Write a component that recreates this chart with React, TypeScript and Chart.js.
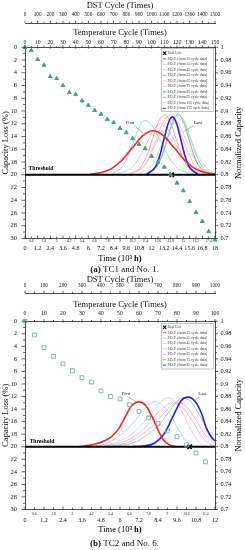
import React, { useEffect, useRef } from 'react';
import { Chart, registerables } from 'chart.js';

Chart.register(...registerables);

const SERIF = '"Liberation Serif", "DejaVu Serif", serif';

type Pt = [number, number];

// ---------- Panel (a): TC1 and No. 1 ----------
const timeA = [0, 0.6, 1.2, 1.8, 2.4, 3.0, 3.6, 4.2, 4.8, 5.4, 6.0, 6.6, 7.2, 7.8, 8.4, 9.0, 9.6, 10.2, 10.8, 11.4, 12.0, 12.6, 13.2, 13.8, 14.4, 15.0, 15.6, 16.2, 16.8, 17.4, 18.0];
const lossA = [0, 0.5, 1.9, 2.8, 4.6, 4.9, 6.0, 7.1, 7.4, 8.4, 9.1, 9.9, 10.5, 11.3, 11.8, 12.7, 13.4, 14.3, 15.2, 15.9, 17.1, 18.0, 18.8, 20.0, 21.3, 22.5, 24.2, 25.9, 27.3, 28.9, 30.2];
const realLifeA: Pt = [13.9, 20];
const cyclesA = [25, 35, 45, 55, 65, 75, 85, 95, 105, 115];
const pdfA25: Pt[] = [[6.15, 19.92], [7.15, 19.7], [8.15, 19.07], [9.15, 17.76], [10.15, 15.82], [11.15, 13.91], [12.15, 13.1], [13.15, 13.91], [14.15, 15.82], [15.15, 17.76], [16.15, 19.07], [17.15, 19.7], [18, 19.9]];
const pdfA35: Pt[] = [[8.07, 19.91], [9.17, 18.85], [9.72, 17.24], [10.27, 14.84], [10.82, 12.5], [11.37, 11.5], [12.12, 12.5], [12.87, 14.84], [13.62, 17.24], [14.37, 18.85], [15.87, 19.91]];
const pdfA45: Pt[] = [[8.7, 19.91], [10.1, 18.92], [10.8, 17.4], [11.5, 15.15], [12.2, 12.94], [12.9, 12.0], [13.6, 12.94], [14.3, 15.15], [15.0, 17.4], [15.7, 18.92], [17.1, 19.91]];
const pdfA55: Pt[] = [[9.9, 19.9], [11.0, 18.73], [11.55, 16.95], [12.1, 14.3], [12.65, 11.7], [13.2, 10.6], [13.75, 11.7], [14.3, 14.3], [14.85, 16.95], [15.4, 18.73], [16.5, 19.9]];
const pdfA65: Pt[] = [[9.95, 19.9], [11.2, 18.74], [11.83, 16.98], [12.45, 14.36], [13.08, 11.79], [13.7, 10.7], [14.33, 11.79], [14.95, 14.36], [15.58, 16.98], [16.2, 18.74], [17.45, 19.9]];
const pdfA75: Pt[] = [[9.85, 19.9], [11.2, 18.78], [11.88, 17.08], [12.55, 14.54], [13.23, 12.06], [13.9, 11.0], [14.58, 12.06], [15.25, 14.54], [15.93, 17.08], [16.6, 18.78], [17.95, 19.9]];
const pdfA85: Pt[] = [[11.5, 19.89], [12.5, 18.71], [13.0, 16.92], [13.5, 14.24], [14.0, 11.62], [14.5, 10.5], [15.0, 11.62], [15.5, 14.24], [16.0, 16.92], [16.5, 18.71], [17.5, 19.89]];
const pdfA95: Pt[] = [[11.3, 19.9], [12.4, 18.74], [12.95, 16.98], [13.5, 14.36], [14.05, 11.79], [14.6, 10.7], [15.15, 11.79], [15.7, 14.36], [16.25, 16.98], [16.8, 18.74], [17.9, 19.9]];
const pdfA105: Pt[] = [[10.7, 19.9], [11.9, 18.77], [12.5, 17.05], [13.1, 14.48], [13.7, 11.97], [14.3, 10.9], [15.0, 11.97], [15.7, 14.48], [16.4, 17.05], [17.1, 18.77], [18.0, 19.72]];
const pdfA115: Pt[] = [[11.56, 19.9], [12.36, 18.77], [12.76, 17.05], [13.16, 14.48], [13.56, 11.97], [13.96, 10.9], [14.36, 11.97], [14.76, 14.48], [15.16, 17.05], [15.56, 18.77], [16.36, 19.9]];
const colorsA = ['#ff2020', '#7fd3d3', '#cfc4cf', '#ff7fd0', '#efb78a', '#ffb3c6', '#4fa77c', '#a9b9a6', '#9fe0e6', '#1f1fff'];

// ---------- Panel (b): TC2 and No. 6 ----------
const timeB = [0, 0.6, 1.2, 1.8, 2.4, 3.0, 3.6, 4.2, 4.8, 5.4, 6.0, 6.6, 7.2, 7.8, 8.4, 9.0, 9.6, 10.2, 10.8, 11.4];
const lossB = [0, 2.2, 4.2, 5.6, 6.8, 7.9, 9.0, 9.7, 11.1, 12.0, 12.4, 13.3, 14.4, 15.4, 16.3, 17.5, 18.4, 19.7, 21.0, 22.4];
const realLifeB: Pt = [10.4, 20];
const cyclesB = [25, 35, 45, 55, 65, 75, 85];
const pdfB25: Pt[] = [[3.4, 20], [4.4, 19.6], [5.0, 19.1], [5.5, 18.3], [5.9, 17.2], [6.3, 15.4], [6.7, 13.6], [7.2, 12.85], [7.65, 13.5], [8.1, 15.6], [8.45, 17.6], [8.8, 19.1], [9.2, 19.8], [9.6, 20]];
const pdfB35: Pt[] = [[3.8, 20], [5.0, 19.6], [6.1, 18.0], [6.7, 16.6], [7.2, 15.0], [7.7, 13.5], [8.2, 12.8], [8.7, 13.4], [9.2, 15.0], [9.7, 17.3], [10.2, 19.2], [10.8, 20]];
const pdfB45: Pt[] = [[4.2, 20], [5.5, 19.5], [6.5, 18.4], [7.3, 16.7], [8.0, 14.6], [8.6, 12.8], [9.05, 12.2], [9.5, 12.8], [10.0, 14.8], [10.5, 17.4], [11.0, 19.3], [11.5, 20]];
const pdfB55: Pt[] = [[4.6, 20], [6.0, 19.4], [7.0, 18.2], [7.8, 16.4], [8.5, 14.3], [9.3, 13.0], [10.0, 13.9], [10.6, 16.0], [11.2, 18.5], [11.7, 19.6], [12, 19.9]];
const pdfB65: Pt[] = [[5.0, 20], [6.4, 19.4], [7.4, 18.0], [8.2, 16.3], [8.9, 14.3], [9.6, 12.9], [10.2, 13.6], [10.8, 15.7], [11.4, 18.1], [12.0, 19.5]];
const pdfB75: Pt[] = [[5.4, 20], [6.8, 19.4], [7.8, 18.0], [8.6, 16.1], [9.3, 13.7], [9.95, 12.2], [10.5, 12.9], [11.0, 14.9], [11.5, 17.2], [12.0, 19.0]];
const pdfB85: Pt[] = [[6.5, 20], [7.6, 19.85], [8.2, 19.4], [8.8, 17.9], [9.4, 14.9], [9.85, 12.7], [10.3, 12.1], [10.75, 12.8], [11.15, 14.7], [11.45, 17.0], [11.75, 18.4], [12.0, 19.1]];
const colorsB = ['#ff2020', '#8fdada', '#d2cbd2', '#e2a6ea', '#ff9ad6', '#8fc68f', '#1f1fff'];

const THRESHOLD = 20;

interface PanelCfg {
  timeMax: number;
  tempMax: number;
  dstMax: number;
  t: number[];
  loss: number[];
  pointStyle: string;
  pointRadius: number;
  pointColor: string;
  pointFill: string;
  real: Pt;
  cycles: number[];
  curves: Pt[][];
  colors: string[];
  lay: any;
  deco: any;
}

const panelA: PanelCfg = {
  timeMax: 18, tempMax: 150, dstMax: 1500,
  t: timeA, loss: lossA,
  pointStyle: 'triangle', pointRadius: 2.3, pointColor: '#3d9f87', pointFill: '#3d9f87',
  real: realLifeA, cycles: cyclesA,
  curves: [pdfA25, pdfA35, pdfA45, pdfA55, pdfA65, pdfA75, pdfA85, pdfA95, pdfA105, pdfA115],
  colors: colorsA,
  lay: { dstH: 23.3, dstPad: 5.7, dstTitlePad: 1.75, tempH: 23.95, tempPad: 1.75, tempTitlePad: 4.75, bottomH: 25.5, xPad: 6.7 },
  deco: {
    minorY: 3, timeY: 258.3, rightTitleX: 238.5,
    thr: [0.33, 19.0],
    notes: [
      { text: 'First', at: [9.95, 11.8], line: [10.4, 12.35, 11.2, 13.5] },
      { text: 'Last', at: [16.4, 11.9], line: [15.9, 12.35, 15.0, 13.25] },
    ],
    legend: { x: 161.7, y: 48.3, w: 51.6, h: 63.2, first: 5.0, row: 5.5 },
  },
};

const panelB: PanelCfg = {
  timeMax: 12, tempMax: 100, dstMax: 1000,
  t: timeB, loss: lossB,
  pointStyle: 'rect', pointRadius: 2.7, pointColor: '#6db6a6', pointFill: 'rgba(255,255,255,0)',
  real: realLifeB, cycles: cyclesB,
  curves: [pdfB25, pdfB35, pdfB45, pdfB55, pdfB65, pdfB75, pdfB85],
  colors: colorsB,
  lay: { dstH: 20.3, dstPad: 5.0, dstTitlePad: 2.75, tempH: 27.9, tempPad: 5.0, tempTitlePad: 7.45, bottomH: 27.5, xPad: 7.4 },
  deco: {
    minorY: 5, timeY: 257, rightTitleX: 238.5,
    thr: [0.28, 19.2],
    notes: [
      { text: 'First', at: [6.38, 11.5], line: [6.53, 12.1, 7.05, 12.9] },
      { text: 'Last', at: [11.2, 11.6], line: [11.0, 12.0, 10.67, 12.8] },
    ],
    legend: { x: 161.7, y: 50.3, w: 51.6, h: 45.7, first: 4.0, row: 5.4 },
  },
};

const fmt1 = (v: number) => String(Number(v.toFixed(1)));

const decoPlugin = {
  id: 'deco',
  afterDraw(chart: any, _a: any, o: any) {
    const ctx: CanvasRenderingContext2D = chart.ctx;
    const ca = chart.chartArea;
    const sx = chart.scales.x, sy = chart.scales.y, sy2 = chart.scales.y2, sx2 = chart.scales.x2, sx3 = chart.scales.x3;
    const X = (t: number) => sx.getPixelForValue(t);
    const Y = (l: number) => sy.getPixelForValue(l);
    const seg = (a: number, b: number, c: number, d: number) => {
      ctx.beginPath(); ctx.moveTo(a, b); ctx.lineTo(c, d); ctx.stroke();
    };
    ctx.save();
    // tick marks
    ctx.strokeStyle = '#222';
    ctx.lineWidth = 0.7;
    sx.ticks.forEach((t: any, i: number) => { const px = X(t.value); seg(px, ca.bottom, px, ca.bottom - (i % 2 === 0 ? 3 : 2)); });
    sy.ticks.forEach((t: any) => { const py = Y(t.value); seg(ca.left, py, ca.left - (Math.round(t.value) % 2 === 0 ? 3.5 : 2), py); });
    sy2.ticks.forEach((t: any) => { const py = sy2.getPixelForValue(t.value); seg(ca.right, py, ca.right + (Math.round(t.value) % 2 === 0 ? 3 : 1.8), py); });
    sx2.ticks.forEach((t: any) => { const px = sx2.getPixelForValue(t.value); const m = Math.round(t.value) % 10 === 0; seg(px, ca.top - (m ? 2 : 1.3), px, ca.top + (m ? 1.5 : 0)); });
    sx3.ticks.forEach((t: any) => { const px = sx3.getPixelForValue(t.value); const m = Math.round(t.value) % 100 === 0; seg(px, sx3.bottom, px, sx3.bottom - (m ? 2.6 : 1.5)); });

    // minor time labels
    ctx.fillStyle = '#111';
    ctx.font = `3.6px ${SERIF}`;
    ctx.textAlign = 'center';
    ctx.textBaseline = 'middle';
    sx.ticks.forEach((t: any, i: number) => { if (i % 2 === 1) ctx.fillText(fmt1(t.value), X(t.value), ca.bottom + o.minorY); });

    // bottom title with bold part
    const p1 = 'Time (10', p2 = '³ h)';
    const reg = `8.5px ${SERIF}`, bold = `bold 8.5px ${SERIF}`;
    ctx.font = reg; const w1 = ctx.measureText(p1).width;
    ctx.font = bold; const w2 = ctx.measureText(p2).width;
    const x0 = (ca.left + ca.right) / 2 - (w1 + w2) / 2;
    ctx.textAlign = 'left';
    ctx.fillStyle = '#000';
    ctx.font = reg; ctx.fillText(p1, x0, o.timeY);
    ctx.font = bold; ctx.fillText(p2, x0 + w1, o.timeY);

    // right title
    ctx.save();
    ctx.translate(o.rightTitleX, (ca.top + ca.bottom) / 2);
    ctx.rotate(-Math.PI / 2);
    ctx.textAlign = 'center';
    ctx.font = `8.5px ${SERIF}`;
    ctx.fillText('Normalized Capacity', 0, 0);
    ctx.restore();

    // threshold label
    ctx.textAlign = 'left';
    ctx.font = `bold 5.7px ${SERIF}`;
    ctx.fillText('Threshold', X(o.thr[0]), Y(o.thr[1]));

    // First / Last notes
    o.notes.forEach((n: any) => {
      ctx.strokeStyle = '#666';
      ctx.lineWidth = 0.5;
      seg(X(n.line[0]), Y(n.line[1]), X(n.line[2]), Y(n.line[3]));
      ctx.font = `4.8px ${SERIF}`;
      ctx.textAlign = 'center';
      ctx.fillStyle = '#222';
      ctx.fillText(n.text, X(n.at[0]), Y(n.at[1]));
    });

    // legend
    const lg = o.legend;
    ctx.fillStyle = '#fff';
    ctx.fillRect(lg.x, lg.y, lg.w, lg.h);
    ctx.strokeStyle = '#9a9a9a';
    ctx.lineWidth = 0.6;
    ctx.strokeRect(lg.x, lg.y, lg.w, lg.h);
    o.items.forEach((it: any, k: number) => {
      const y = lg.y + lg.first + k * lg.row;
      if (it.kind === 'x') {
        ctx.strokeStyle = '#000';
        ctx.lineWidth = 1.1;
        const cx = lg.x + 2.9, r = 1.6;
        seg(cx - r, y - r, cx + r, y + r);
        seg(cx - r, y + r, cx + r, y - r);
      } else {
        ctx.strokeStyle = it.color;
        ctx.lineWidth = 0.9;
        seg(lg.x + 1.2, y, lg.x + 4.6, y);
      }
      ctx.fillStyle = '#333';
      ctx.font = `3.7px ${SERIF}`;
      ctx.textAlign = 'left';
      ctx.fillText(it.label, lg.x + 5.8, y);
    });
    ctx.restore();
  },
};

function buildConfig(p: PanelCfg): any {
  const labels = p.cycles.map((c) => `P.D.F. (from ${c} cycle data)`);
  const datasets: any[] = [];
  datasets.push({
    type: 'scatter', label: 'measured',
    data: p.t.map((t, i) => ({ x: t, y: p.loss[i] })),
    pointStyle: p.pointStyle, pointRadius: p.pointRadius,
    backgroundColor: p.pointFill, borderColor: p.pointColor, borderWidth: 0.9, clip: false,
  });
  datasets.push({
    type: 'scatter', label: 'Real Life',
    data: [{ x: p.real[0], y: p.real[1] }],
    pointStyle: 'crossRot', pointRadius: 3, borderColor: '#000', borderWidth: 1.6, clip: false,
  });
  datasets.push({
    type: 'line', label: 'Threshold',
    data: [{ x: 0, y: THRESHOLD }, { x: p.timeMax, y: THRESHOLD }],
    borderColor: '#000', borderWidth: 2, pointRadius: 0,
  });
  const n = p.curves.length;
  const order = [0, n - 1, ...Array.from({ length: n - 2 }, (_, i) => n - 2 - i)];
  order.forEach((idx) => {
    const thick = idx === 0 || idx === n - 1;
    datasets.push({
      type: 'line', label: labels[idx],
      data: p.curves[idx].map(([x, y]) => ({ x, y })),
      borderColor: p.colors[idx], borderWidth: thick ? 1.6 : 0.8,
      pointRadius: 0, cubicInterpolationMode: 'monotone', fill: false,
    });
  });

  const items = [{ kind: 'x', label: 'Real Life', color: '#000' }, ...labels.map((l, i) => ({ kind: 'line', label: l, color: p.colors[i] }))];

  const L = p.lay;
  const noGrid = { display: false, drawTicks: false, drawOnChartArea: false };
  const border = { display: true, color: '#222', width: 0.8 };
  const tf = (size: number) => ({ family: SERIF, size, lineHeight: 1 });

  return {
    type: 'scatter',
    data: { datasets },
    plugins: [decoPlugin],
    options: {
      animation: false,
      responsive: false,
      events: [],
      layout: { padding: 0, autoPadding: false },
      plugins: {
        legend: { display: false },
        tooltip: { enabled: false },
        title: { display: false },
        deco: { ...p.deco, items },
      },
      scales: {
        x: {
          type: 'linear', position: 'bottom', min: 0, max: p.timeMax,
          grid: noGrid, border,
          afterFit: (s: any) => { s.height = L.bottomH; },
          ticks: { stepSize: 0.6, autoSkip: false, maxRotation: 0, minRotation: 0, padding: L.xPad, font: tf(6.1), color: '#111',
            callback: (v: any, i: number) => (i % 2 === 0 ? fmt1(Number(v)) : '') },
        },
        x2: {
          type: 'linear', position: 'top', weight: 1, min: 0, max: p.tempMax,
          grid: noGrid, border,
          afterFit: (s: any) => { s.height = L.tempH; },
          title: { display: true, text: 'Temperature Cycle (Times)', font: tf(8.5), color: '#111', padding: { top: L.tempTitlePad, bottom: 0 } },
          ticks: { stepSize: 5, autoSkip: false, maxRotation: 0, minRotation: 0, padding: L.tempPad, font: tf(5.8), color: '#111',
            callback: (v: any) => (Math.round(Number(v)) % 10 === 0 ? String(Math.round(Number(v))) : '') },
        },
        x3: {
          type: 'linear', position: 'top', weight: 2, min: 0, max: p.dstMax,
          grid: noGrid, border,
          afterFit: (s: any) => { s.height = L.dstH; },
          title: { display: true, text: 'DST Cycle (Times)', font: tf(8.5), color: '#111', padding: { top: L.dstTitlePad, bottom: 0 } },
          ticks: { stepSize: 50, autoSkip: false, maxRotation: 0, minRotation: 0, padding: L.dstPad, font: tf(5.2), color: '#111',
            callback: (v: any) => (Math.round(Number(v)) % 100 === 0 ? String(Math.round(Number(v))) : '') },
        },
        y: {
          type: 'linear', position: 'left', reverse: true, min: 0, max: 30,
          grid: noGrid, border,
          afterFit: (s: any) => { s.width = 25; },
          title: { display: true, text: 'Capacity Loss (%)', font: tf(8.5), color: '#111', padding: { top: 1.3, bottom: 0 } },
          ticks: { stepSize: 1, autoSkip: false, padding: 8, font: tf(6.5), color: '#111',
            callback: (v: any) => (Math.round(Number(v)) % 2 === 0 ? String(Math.round(Number(v))) : '') },
        },
        y2: {
          type: 'linear', position: 'right', min: 70, max: 100,
          grid: noGrid, border,
          afterFit: (s: any) => { s.width = 30; },
          ticks: { stepSize: 1, autoSkip: false, padding: 5.5, font: tf(6.3), color: '#111',
            callback: (v: any) => (Math.round(Number(v)) % 2 === 0 ? String(Number((Number(v) / 100).toFixed(2))) : '') },
        },
      },
    },
  };
}

function Panel({ cfg, top }: { cfg: PanelCfg; top: number }) {
  const ref = useRef<HTMLCanvasElement>(null);
  useEffect(() => {
    if (!ref.current) return;
    const chart = new Chart(ref.current, buildConfig(cfg));
    return () => chart.destroy();
  }, [cfg]);
  return (
    <canvas
      ref={ref}
      width={245}
      height={264}
      style={{ position: 'absolute', left: 0, top, width: 245, height: 264 }}
    />
  );
}

const capStyle = (top: number): React.CSSProperties => ({
  position: 'absolute', left: 0, top, width: 249, height: 15, lineHeight: '15px',
  textAlign: 'center', fontFamily: SERIF, fontSize: 9, color: '#111', whiteSpace: 'nowrap',
});

export default function App() {
  return (
    <div style={{ position: 'absolute', left: 0, top: 0, width: 245, height: 550, background: '#fff', overflow: 'hidden' }}>
      <Panel cfg={panelA} top={0} />
      <div style={capStyle(262)}><b>(a)</b> TC1 and No. 1.</div>
      <Panel cfg={panelB} top={273} />
      <div style={capStyle(536)}><b>(b)</b> TC2 and No. 6.</div>
    </div>
  );
}
